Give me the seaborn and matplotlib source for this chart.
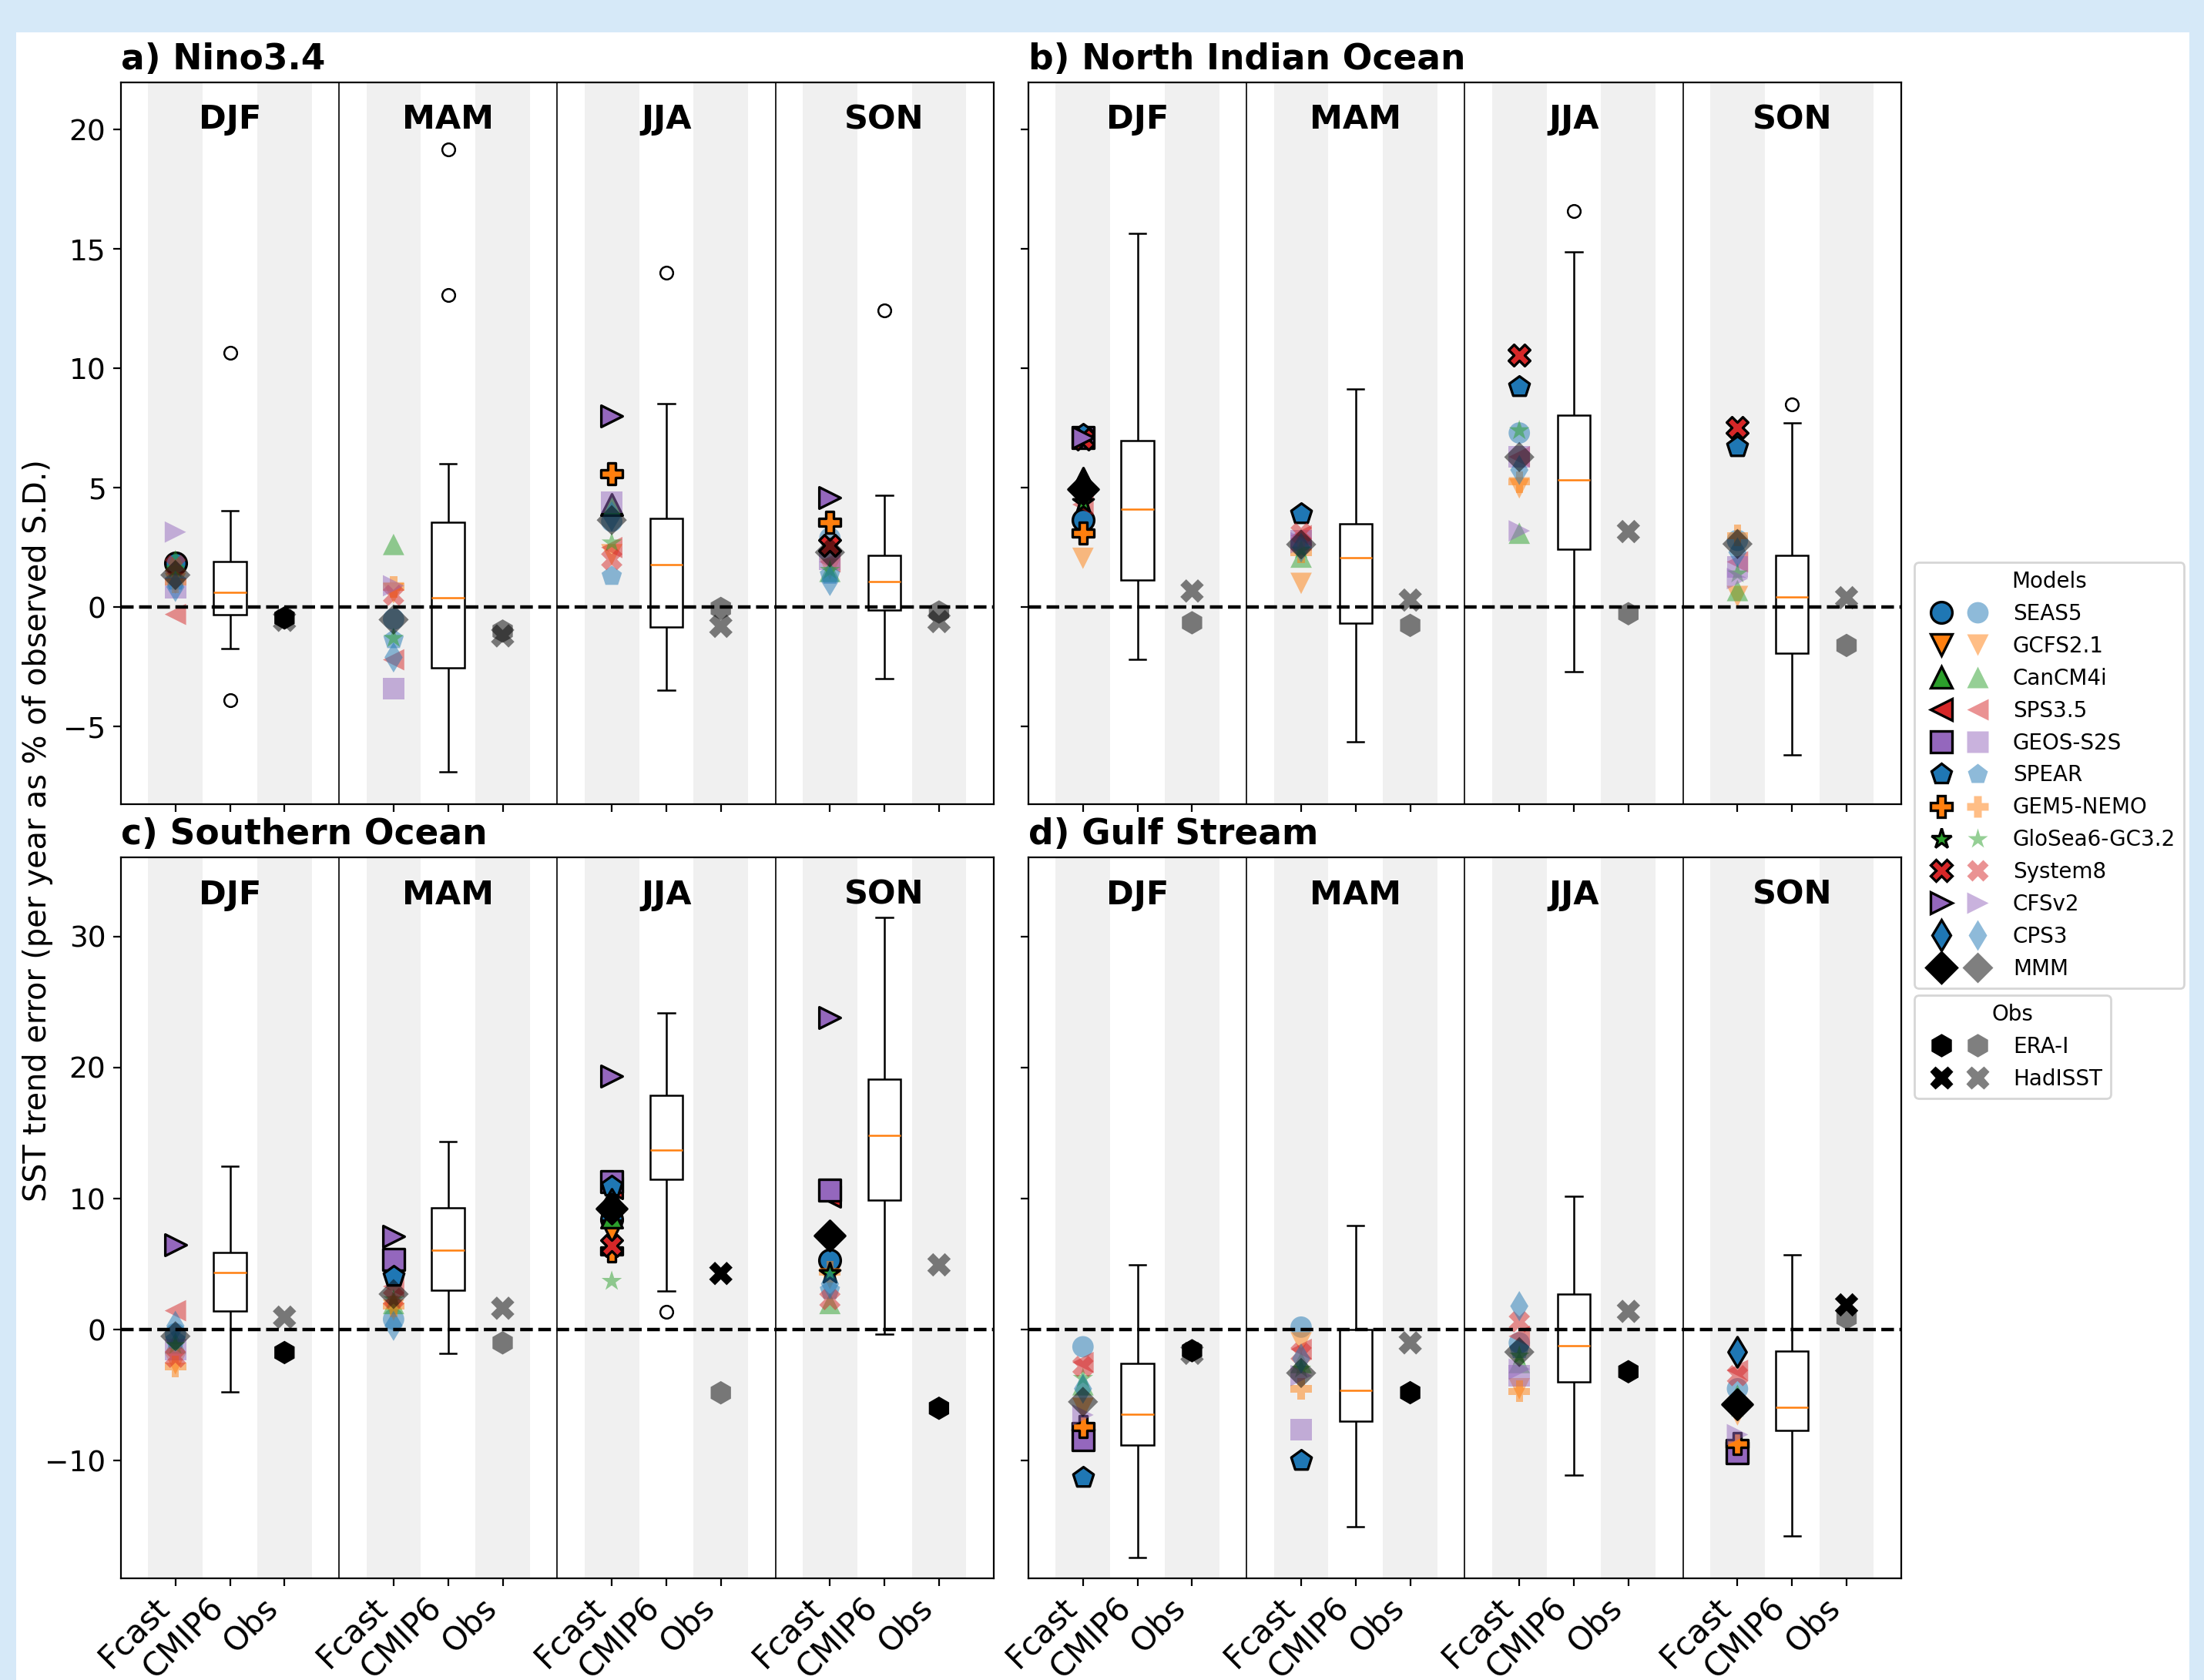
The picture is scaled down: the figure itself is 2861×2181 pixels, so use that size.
import numpy as np
import pandas as pd
import matplotlib
matplotlib.use("Agg")
import matplotlib.pyplot as plt
from matplotlib.lines import Line2D
from matplotlib.patches import Rectangle
from matplotlib.legend_handler import HandlerTuple
import seaborn as sns

# ---------------- data ----------------
seasons = ["DJF", "MAM", "JJA", "SON"]
cats = ["Fcast", "CMIP6", "Obs"]
models = ["SEAS5", "GCFS2.1", "CanCM4i", "SPS3.5", "GEOS-S2S", "SPEAR",
          "GEM5-NEMO", "GloSea6-GC3.2", "System8", "CFSv2", "CPS3", "MMM"]
model_markers = ["o", "v", "^", "<", "s", "p", "P", "*", "X", ">", "d", "D"]
model_colors = ["C0", "C1", "C2", "C3", "C4", "C0", "C1", "C2", "C3", "C4", "C0", "k"]
obs_names = ["ERA-I", "HadISST"]
obs_markers = ["h", "X"]

titles = ["a) Nino3.4", "b) North Indian Ocean", "c) Southern Ocean", "d) Gulf Stream"]

# forecast trend errors, one row per season (DJF, MAM, JJA, SON), columns = models
fcast_nino = [[1.85, 1.0, 1.95, -0.3, 0.8, 1.1, 1.05, 1.6, 1.75, 3.15, 0.85, 1.35],
              [-0.5, 0.6, 2.63, -2.2, -3.4, -1.35, 0.85, -1.3, 0.5, 0.9, -2.1, -0.52],
              [3.6, 2.2, 4.3, 2.5, 4.4, 1.3, 5.6, 2.7, 2.0, 8.0, 3.8, 3.65],
              [2.9, 1.6, 1.5, 1.9, 2.0, 1.35, 3.55, 1.55, 2.6, 4.6, 1.1, 2.3]]
sig_nino = [[1, 0, 0, 0, 0, 0, 0, 0, 0, 0, 0, 0],
            [0, 0, 0, 0, 0, 0, 0, 0, 0, 0, 0, 0],
            [0, 0, 1, 0, 0, 0, 1, 0, 0, 1, 0, 0],
            [0, 0, 0, 0, 0, 0, 1, 0, 1, 1, 0, 0]]
obs_nino = [[-0.45, -0.55], [-1.0, -1.2], [-0.05, -0.8], [-0.2, -0.6]]
obs_sig_nino = [[1, 0], [0, 0], [0, 0], [0, 0]]
box_nino = [[-1.73, -0.30, 0.61, 1.90, 4.03],
            [-6.88, -2.54, 0.41, 3.57, 6.02],
            [-3.46, -0.84, 1.77, 3.71, 8.52],
            [-3.0, -0.13, 1.07, 2.17, 4.70]]
fliers_nino = [[-3.89, 10.65], [13.07, 19.19], [14.0], [12.42]]

fcast_nio = [[3.65, 2.05, 5.4, 4.3, 7.1, 7.25, 3.1, 4.4, 7.05, 7.1, 5.1, 4.95],
             [2.6, 1.0, 2.1, 3.0, 2.8, 3.9, 2.3, 2.4, 3.1, 2.7, 2.5, 2.63],
             [7.3, 5.0, 3.1, 6.3, 6.3, 9.25, 5.25, 7.4, 10.56, 3.2, 5.75, 6.29],
             [2.8, 0.45, 0.7, 1.9, 1.7, 6.72, 3.0, 1.4, 7.53, 1.2, 2.3, 2.65]]
sig_nio = [[1, 0, 1, 0, 1, 1, 1, 1, 1, 1, 1, 1],
           [0, 0, 0, 0, 0, 1, 0, 0, 0, 0, 0, 0],
           [0, 0, 0, 0, 0, 1, 0, 0, 1, 0, 0, 0],
           [0, 0, 0, 0, 0, 1, 0, 0, 1, 0, 0, 0]]
obs_nio = [[-0.65, 0.68], [-0.76, 0.3], [-0.27, 3.17], [-1.6, 0.4]]
obs_sig_nio = [[0, 0], [0, 0], [0, 0], [0, 0]]
box_nio = [[-2.17, 1.13, 4.11, 6.99, 15.66],
           [-5.65, -0.68, 2.06, 3.49, 9.14],
           [-2.7, 2.44, 5.35, 8.03, 14.9],
           [-6.2, -1.94, 0.43, 2.17, 7.72]]
fliers_nio = [[], [], [16.6], [8.5]]

fcast_so = [[-0.3, -2.6, -1.0, 1.45, -1.5, -0.8, -2.8, -1.2, -2.1, 6.5, 0.3, -0.5],
            [0.8, 1.5, 2.0, 3.3, 5.36, 4.09, 1.8, 2.3, 2.4, 7.11, 0.3, 2.72],
            [8.4, 7.52, 8.6, 10.8, 11.3, 10.95, 6.0, 3.7, 6.44, 19.37, 9.6, 9.24],
            [5.31, 3.9, 2.0, 10.2, 10.65, 3.0, 4.4, 4.29, 2.3, 23.81, 3.5, 7.17]]
sig_so = [[0, 0, 0, 0, 0, 0, 0, 0, 0, 1, 0, 0],
          [0, 0, 0, 0, 1, 1, 0, 0, 0, 1, 0, 0],
          [1, 1, 1, 1, 1, 1, 1, 0, 1, 1, 1, 1],
          [1, 0, 0, 1, 1, 0, 0, 1, 0, 1, 0, 1]]
obs_so = [[-1.74, 0.96], [-1.0, 1.64], [-4.81, 4.29], [-5.99, 4.95]]
obs_sig_so = [[1, 0], [0, 0], [0, 1], [1, 0]]
box_so = [[-4.72, 1.45, 4.38, 5.89, 12.47],
          [-1.82, 3.01, 6.05, 9.32, 14.38],
          [2.96, 11.49, 13.69, 17.9, 24.17],
          [-0.31, 9.88, 14.8, 19.1, 31.42]]
fliers_so = [[], [], [1.39], []]

fcast_gs = [[-1.3, -6.0, -4.2, -2.5, -8.4, -11.25, -7.4, -3.7, -2.8, -6.5, -4.5, -5.5],
            [0.2, -1.0, -2.5, -1.5, -7.6, -10.0, -4.5, -3.0, -1.8, -3.5, -2.2, -3.3],
            [-1.0, -4.5, -2.5, -0.5, -3.5, -1.5, -4.7, -2.0, 0.6, -3.0, 1.8, -1.7],
            [-4.5, -6.5, -5.0, -3.1, -9.4, -5.5, -8.7, -6.0, -3.5, -8.0, -1.7, -5.7]]
sig_gs = [[0, 0, 0, 0, 1, 1, 1, 0, 0, 0, 0, 0],
          [0, 0, 0, 0, 0, 1, 0, 0, 0, 0, 0, 0],
          [0, 0, 0, 0, 0, 0, 0, 0, 0, 0, 0, 0],
          [0, 0, 0, 0, 1, 0, 1, 0, 0, 0, 1, 1]]
obs_gs = [[-1.6, -1.8], [-4.8, -1.0], [-3.2, 1.4], [0.9, 1.9]]
obs_sig_gs = [[1, 0], [1, 0], [1, 0], [0, 1]]
box_gs = [[-17.4, -8.79, -6.43, -2.57, 4.93],
          [-15.0, -7.0, -4.6, 0.0, 7.93],
          [-11.1, -4.0, -1.2, 2.7, 10.2],
          [-15.7, -7.7, -5.9, -1.6, 5.7]]
fliers_gs = [[], [], [], []]

panels = [(fcast_nino, sig_nino, obs_nino, obs_sig_nino, box_nino, fliers_nino),
          (fcast_nio, sig_nio, obs_nio, obs_sig_nio, box_nio, fliers_nio),
          (fcast_so, sig_so, obs_so, obs_sig_so, box_so, fliers_so),
          (fcast_gs, sig_gs, obs_gs, obs_sig_gs, box_gs, fliers_gs)]


def box_sample(stats, fl):
    # sample whose boxplot statistics are the ones
    lo, q1, med, q3, hi = stats
    return list(fl) + [lo] + [q1] * 3 + [med] * 3 + [q3] * 3 + [hi]


# ---------------- figure ----------------
W, H, DPI = 2861, 2181, 200
fig, axes = plt.subplots(2, 2, figsize=(W / DPI, H / DPI), dpi=DPI,
                         sharex=True, sharey="row", facecolor="#d6e9f8")
fig.add_artist(Rectangle((21 / W, 0), (2842 - 21) / W, (H - 42) / H,
                         transform=fig.transFigure, facecolor="white",
                         edgecolor="none", zorder=-10))
axes = axes.ravel()

ax_w = 16 * 70.8 / W
pos = [[156.9 / W, 1 - 1043.7 / H, ax_w, 937.2 / H],
       [1335 / W, 1 - 1043.7 / H, ax_w, 937.2 / H],
       [156.9 / W, 1 - 2049 / H, ax_w, 936 / H],
       [1335 / W, 1 - 2049 / H, ax_w, 936 / H]]
ylims = [(-8.24, 22.0), (-8.24, 22.0), (-18.96, 36.03), (-18.96, 36.03)]

for k, ax in enumerate(axes):
    fcast, sig, obs, obs_sig, box, fl = panels[k]
    ax.set_position(pos[k])

    for s in range(4):
        x0 = 4 * s
        ax.axvspan(x0 - 0.5, x0 + 0.5, color="#f0f0f0", lw=0, zorder=0)
        ax.axvspan(x0 + 1.5, x0 + 2.5, color="#f0f0f0", lw=0, zorder=0)
        if s < 3:
            ax.axvline(x0 + 3, color="k", lw=0.6, zorder=1)
        ax.text(x0 + 1, 0.935, seasons[s], transform=ax.get_xaxis_transform(),
                ha="center", va="baseline", fontsize=15.5, fontweight="bold")

    # CMIP6 boxes
    bx, by = [], []
    for s in range(4):
        smp = box_sample(box[s], fl[s])
        bx += [4 * s + 1] * len(smp)
        by += smp
    sns.boxplot(x=bx, y=by, orient="x", native_scale=True, width=0.15,
                color="white", linecolor="black", linewidth=0.9, ax=ax,
                medianprops=dict(color="#ff7f0e", linewidth=0.9),
                flierprops=dict(marker="o", markerfacecolor="none",
                                markeredgecolor="black", markersize=6,
                                markeredgewidth=0.9))

    # forecast models
    for m in range(len(models)):
        for flag in (0, 1):
            xs = [4 * s for s in range(4) if sig[s][m] == flag]
            ys = [fcast[s][m] for s in range(4) if sig[s][m] == flag]
            if not xs:
                continue
            if flag:
                sns.scatterplot(x=xs, y=ys, marker=model_markers[m], s=100,
                                color=model_colors[m], edgecolor="k", linewidth=1.2,
                                ax=ax, legend=False, zorder=3)
            else:
                sns.scatterplot(x=xs, y=ys, marker=model_markers[m], s=100,
                                color=model_colors[m], edgecolor="none", alpha=0.5,
                                ax=ax, legend=False, zorder=3)

    # observations
    for j in range(2):
        for s in range(4):
            dark = obs_sig[s][j] == 1
            sns.scatterplot(x=[4 * s + 2], y=[obs[s][j]], marker=obs_markers[j], s=120,
                            color="k", edgecolor="none", alpha=1.0 if dark else 0.5,
                            ax=ax, legend=False, zorder=3)

    ax.axhline(0, color="k", ls="--", lw=1.6, zorder=4)
    ax.set_xlim(-1, 15)
    ax.set_ylim(*ylims[k])
    ax.set_xlabel("")
    ax.set_ylabel("")
    ax.set_title(titles[k], loc="left", fontsize=16.4, fontweight="bold", pad=6)
    ax.tick_params(labelsize=13.5)

ticks = [4 * s + i for s in range(4) for i in range(3)]
for ax in axes:
    ax.set_xticks(ticks)
for ax in axes[2:]:
    ax.set_xticklabels(cats * 4, rotation=45, ha="right", fontsize=15)
    ax.tick_params(axis="x", pad=2.5)
for ax in axes:
    ax.yaxis.set_tick_params(labelleft=ax in (axes[0], axes[2]))

fig.text(0.0171, 0.5059, "SST trend error (per year as % of observed S.D.)",
         rotation=90, ha="center", va="center", fontsize=14.3)

# legends
mh = []
for name, mk, c in zip(models, model_markers, model_colors):
    d = Line2D([], [], ls="none", marker=mk, ms=10, mfc=c, mec="k", mew=1.2)
    l = Line2D([], [], ls="none", marker=mk, ms=10, mfc=c, mec="none", alpha=0.5)
    mh.append((d, l))
oh = []
for name, mk in zip(obs_names, obs_markers):
    d = Line2D([], [], ls="none", marker=mk, ms=11, mfc="k", mec="none")
    l = Line2D([], [], ls="none", marker=mk, ms=11, mfc="k", mec="none", alpha=0.5)
    oh.append((d, l))

hmap = {tuple: HandlerTuple(ndivide=None, pad=0)}
fig.legend(mh, models, title="Models", loc="upper left",
           bbox_to_anchor=(2485 / W, 1 - 730 / H), borderaxespad=0,
           fontsize=10, title_fontsize=10, handlelength=3.4, handler_map=hmap)
fig.legend(oh, obs_names, title="Obs", loc="upper left",
           bbox_to_anchor=(2485 / W, 1 - 1292 / H), borderaxespad=0,
           fontsize=10, title_fontsize=10, handlelength=3.4, handler_map=hmap)

fig.savefig("out.png", dpi=DPI, facecolor=fig.get_facecolor())
